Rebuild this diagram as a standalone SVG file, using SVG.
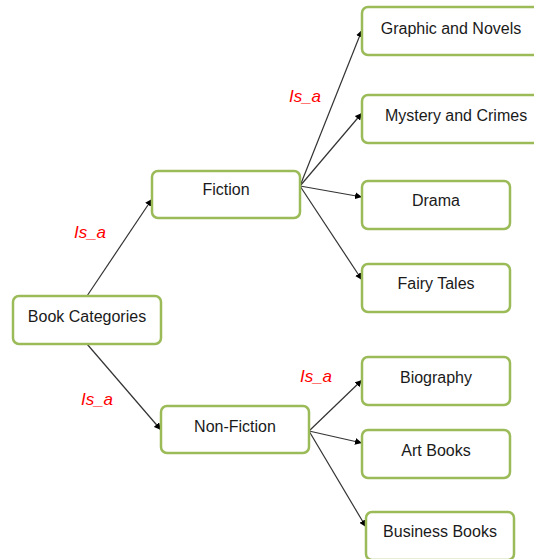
<svg xmlns="http://www.w3.org/2000/svg" width="534" height="559" viewBox="0 0 534 559">
<defs>
<marker id="ah" viewBox="0 0 10 10" refX="10" refY="5" markerWidth="7" markerHeight="7" orient="auto" markerUnits="userSpaceOnUse"><path d="M0,0 L10,5 L0,10 z" fill="#000"/></marker>
</defs>
<style>
.box{fill:#fff;stroke:#9BBB59;stroke-width:2.5}
.t{font-family:"Liberation Sans",Arial,sans-serif;font-size:16px;fill:#1a1a1a;text-anchor:middle;dominant-baseline:central}
.isa{font-family:"Liberation Sans",Arial,sans-serif;font-size:17px;font-style:italic;fill:#ff0000;text-anchor:middle;dominant-baseline:central}
.c{stroke:#333;stroke-width:1.2;fill:none;marker-end:url(#ah)}
</style>
<rect width="534" height="559" fill="#fff"/>
<g id="connectors">
<line class="c" x1="87" y1="296" x2="152" y2="199"/>
<line class="c" x1="87" y1="344" x2="161" y2="430"/>
<line class="c" x1="300" y1="186" x2="362" y2="30"/>
<line class="c" x1="300" y1="186" x2="362" y2="113"/>
<line class="c" x1="300" y1="186" x2="362" y2="197"/>
<line class="c" x1="300" y1="186" x2="362" y2="280"/>
<line class="c" x1="309" y1="431" x2="362" y2="380"/>
<line class="c" x1="309" y1="431" x2="362" y2="443"/>
<line class="c" x1="309" y1="431" x2="366" y2="527"/>
</g>
<g id="labels">
<text class="isa" x="90" y="232">Is_a</text>
<text class="isa" x="97" y="399">Is_a</text>
<text class="isa" x="305" y="96">Is_a</text>
<text class="isa" x="316" y="376">Is_a</text>
</g>
<g id="book-categories"><rect class="box" x="13" y="296" width="148" height="48" rx="6"/><text class="t" x="87" y="316">Book Categories</text></g>
<g id="fiction"><rect class="box" x="152" y="171" width="148" height="47" rx="6"/><text class="t" x="226" y="189">Fiction</text></g>
<g id="non-fiction"><rect class="box" x="161" y="406" width="148" height="47" rx="6"/><text class="t" x="235" y="426">Non-Fiction</text></g>
<g id="graphic"><rect class="box" x="362" y="7" width="180" height="48" rx="6"/><text class="t" x="451" y="28">Graphic and Novels</text></g>
<g id="mystery"><rect class="box" x="362" y="95" width="180" height="48" rx="6"/><text class="t" x="456" y="115">Mystery and Crimes</text></g>
<g id="drama"><rect class="box" x="362" y="181" width="148" height="48" rx="6"/><text class="t" x="436" y="200">Drama</text></g>
<g id="fairy"><rect class="box" x="362" y="264" width="148" height="48" rx="6"/><text class="t" x="436" y="283">Fairy Tales</text></g>
<g id="biography"><rect class="box" x="362" y="357" width="148" height="48" rx="6"/><text class="t" x="436" y="377">Biography</text></g>
<g id="art"><rect class="box" x="362" y="430" width="148" height="48" rx="6"/><text class="t" x="436" y="450">Art Books</text></g>
<g id="business"><rect class="box" x="366" y="512" width="148" height="48" rx="6"/><text class="t" x="440" y="531">Business Books</text></g>
</svg>
